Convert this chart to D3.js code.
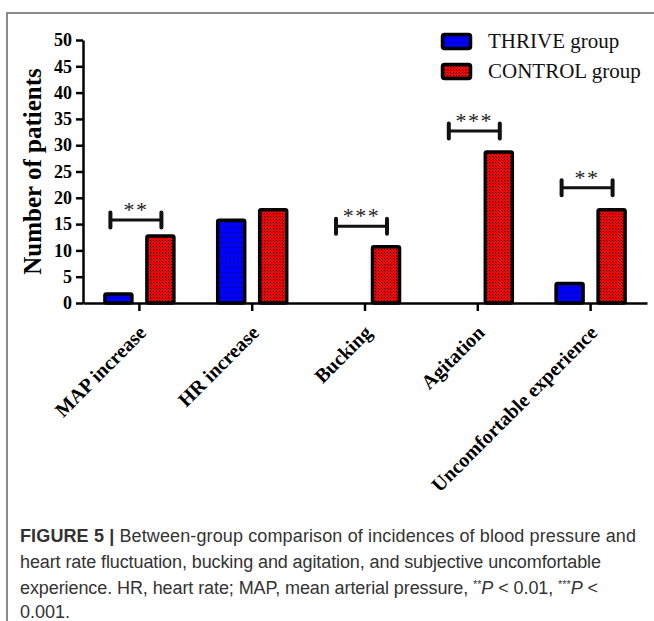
<!DOCTYPE html>
<html>
<head>
<meta charset="utf-8">
<script src="https://cdn.jsdelivr.net/npm/d3@7"></script>
<style>
  body { margin: 0; background: #fff; }
  svg { display: block; }
</style>
</head>
<body>
<script>
// data
const categories = ['MAP increase', 'HR increase', 'Bucking', 'Agitation', 'Uncomfortable experience'];
const groups = ['THRIVE group', 'CONTROL group'];
const thriveValues = [2, 16, 0, 0, 4];
const controlValues = [13, 18, 11, 29, 18];
const yTickValues = [0, 5, 10, 15, 20, 25, 30, 35, 40, 45, 50];
const sigStars = ['**', '', '***', '***', '**'];
const sigLevel = [15.8, null, 14.6, 32.7, 21.9];

const width = 654;
const height = 621;
const plotLeft = 83, plotRight = 647, plotTop = 40, plotBottom = 303;
const serif = '"Liberation Serif", "Times New Roman", serif';
const sans = '"Liberation Sans", Arial, sans-serif';

const svg = d3.select('body')
  .append('svg')
    .attr('width', width)
    .attr('height', height);

//patterns for the two fills
const defs = svg.append('defs');
const pBlue = defs.append('pattern')
  .attr('id', 'pat-blue')
  .attr('patternUnits', 'userSpaceOnUse')
  .attr('width', 4).attr('height', 5);
pBlue.append('rect').attr('width', 4).attr('height', 5).attr('fill', '#0000ff');
pBlue.append('rect').attr('x', 1).attr('y', 2).attr('width', 1).attr('height', 1).attr('fill', '#000');

const pRed = defs.append('pattern')
  .attr('id', 'pat-red')
  .attr('patternUnits', 'userSpaceOnUse')
  .attr('width', 3).attr('height', 3);
pRed.append('rect').attr('width', 3).attr('height', 3).attr('fill', '#ff0000');
pRed.append('rect').attr('x', 0).attr('y', 0).attr('width', 1).attr('height', 1).attr('fill', '#000');
pRed.append('rect').attr('x', 1).attr('y', 1).attr('width', 1).attr('height', 1).attr('fill', '#800000');

const fills = { 'THRIVE group': 'url(#pat-blue)', 'CONTROL group': 'url(#pat-red)' };

//frame
svg.append('path')
  .attr('d', `M7,621V13H654`)
  .attr('fill', 'none')
  .attr('stroke', '#8a8a8a')
  .attr('stroke-width', 2);

//scales
const x0 = d3.scaleBand()
  .domain(categories)
  .range([plotLeft, plotRight]);
const bw = x0.bandwidth();
const x1 = d3.scaleBand()
  .domain(groups)
  .range([bw / 2 - 36, bw / 2 + 36])
  .paddingInner(12 / 42);
const y = d3.scaleLinear()
  .domain([0, 50])
  .range([plotBottom, plotTop]);

//bars
const rows = categories.map((c, i) => ({ cat: c, values: [thriveValues[i], controlValues[i]] }));
const barG = svg.append('g');
rows.forEach(r => {
  groups.forEach((g, j) => {
    const v = r.values[j];
    if (v <= 0) return;
    barG.append('rect')
      .attr('x', x0(r.cat) + x1(g) + 1.5)
      .attr('y', y(v) + 1.5)
      .attr('width', x1.bandwidth() - 3)
      .attr('height', plotBottom - y(v) - 1.5)
      .attr('rx', 1.5)
      .attr('fill', fills[g])
      .attr('stroke', '#000')
      .attr('stroke-width', 3.5)
      .attr('stroke-linejoin', 'round');
  });
});

//y axis
const yAxis = d3.axisLeft(y)
  .tickValues(yTickValues)
  .tickSize(7)
  .tickSizeOuter(0)
  .tickPadding(4);
const gy = svg.append('g')
  .attr('transform', `translate(${plotLeft},0)`)
  .call(yAxis);
gy.select('.domain').attr('stroke', '#000').attr('stroke-width', 2.5);
gy.selectAll('.tick line').attr('stroke', '#000').attr('stroke-width', 2.5);
gy.selectAll('.tick text')
  .attr('fill', '#000')
  .style('font-family', serif)
  .style('font-weight', 'bold')
  .style('font-size', '18px');

//x axis
const xAxis = d3.axisBottom(x0)
  .tickSize(8)
  .tickSizeOuter(0)
  .tickFormat('');
const gx = svg.append('g')
  .attr('transform', `translate(0,${plotBottom})`)
  .call(xAxis);
gx.select('.domain').attr('stroke', '#000').attr('stroke-width', 2.5);
gx.selectAll('.tick line').attr('stroke', '#000').attr('stroke-width', 2.5);

// rotated category labels
svg.selectAll('.cat-label')
  .data(categories)
  .enter()
  .append('text')
    .attr('class', 'cat-label')
    .attr('transform', d => `translate(${x0(d) + bw / 2 + 8},${plotBottom + 31}) rotate(-45)`)
    .attr('text-anchor', 'end')
    .style('font-family', serif)
    .style('font-weight', 'bold')
    .style('font-size', '20px')
    .text(d => d);

// y axis title
svg.append('text')
  .attr('transform', `translate(41,${(plotTop + plotBottom) / 2}) rotate(-90)`)
  .attr('text-anchor', 'middle')
  .style('font-family', serif)
  .style('font-weight', 'bold')
  .style('font-size', '25px')
  .text('Number of patients');

//significance brackets
categories.forEach((c, i) => {
  if (sigLevel[i] == null) return;
  const yy = y(sigLevel[i]);
  const xa = x0(c) + x1(groups[0]) + 7;
  const xb = x0(c) + x1(groups[1]) + 16;
  const g = svg.append('g')
    .attr('stroke', '#111')
    .attr('stroke-linecap', 'round');
  g.append('line').attr('x1', xa).attr('x2', xb).attr('y1', yy).attr('y2', yy).attr('stroke-width', 3);
  g.append('line').attr('x1', xa).attr('x2', xa).attr('y1', yy - 7.5).attr('y2', yy + 7.5).attr('stroke-width', 4);
  g.append('line').attr('x1', xb).attr('x2', xb).attr('y1', yy - 7.5).attr('y2', yy + 7.5).attr('stroke-width', 4);
  svg.append('text')
    .attr('x', (xa + xb) / 2)
    .attr('y', yy - 3)
    .attr('text-anchor', 'middle')
    .attr('fill', '#222')
    .style('font-family', serif)
    .style('font-size', '22px')
    .style('letter-spacing', '1.5px')
    .text(sigStars[i]);
});

//legend
const legend = svg.append('g');
groups.forEach((g, i) => {
  legend.append('rect')
    .attr('x', 442.5)
    .attr('y', 34.5 + i * 30)
    .attr('width', 28)
    .attr('height', 14)
    .attr('rx', 2)
    .attr('fill', fills[g])
    .attr('stroke', '#000')
    .attr('stroke-width', 3.5);
  legend.append('text')
    .attr('x', 488)
    .attr('y', 48 + i * 30)
    .attr('fill', '#111')
    .style('font-family', serif)
    .style('font-size', '21px')
    .text(g);
});

//caption, one text per line so each can be fitted to its width
function capLine(yPos, len) {
  const t = svg.append('text')
    .attr('x', 20)
    .attr('y', yPos)
    .attr('fill', '#333')
    .style('font-family', sans)
    .style('font-size', '18px');
  if (len) t.attr('textLength', len).attr('lengthAdjust', 'spacing');
  return t;
}
const l1 = capLine(542, 616);
l1.append('tspan').style('font-weight', 'bold').text('FIGURE 5 | ');
l1.append('tspan').text('Between-group comparison of incidences of blood pressure and');
capLine(568, 581)
  .text('heart rate fluctuation, bucking and agitation, and subjective uncomfortable');
const l3 = capLine(594, 578);
l3.append('tspan').text('experience. HR, heart rate; MAP, mean arterial pressure, ');
l3.append('tspan').style('font-size', '11px').attr('dy', -6).text('**');
l3.append('tspan').style('font-style', 'italic').attr('dy', 6).text('P');
l3.append('tspan').text(' < 0.01, ');
l3.append('tspan').style('font-size', '11px').attr('dy', -6).text('***');
l3.append('tspan').style('font-style', 'italic').attr('dy', 6).text('P');
l3.append('tspan').text(' <');
capLine(618, null).text('0.001.');
</script>
</body>
</html>
